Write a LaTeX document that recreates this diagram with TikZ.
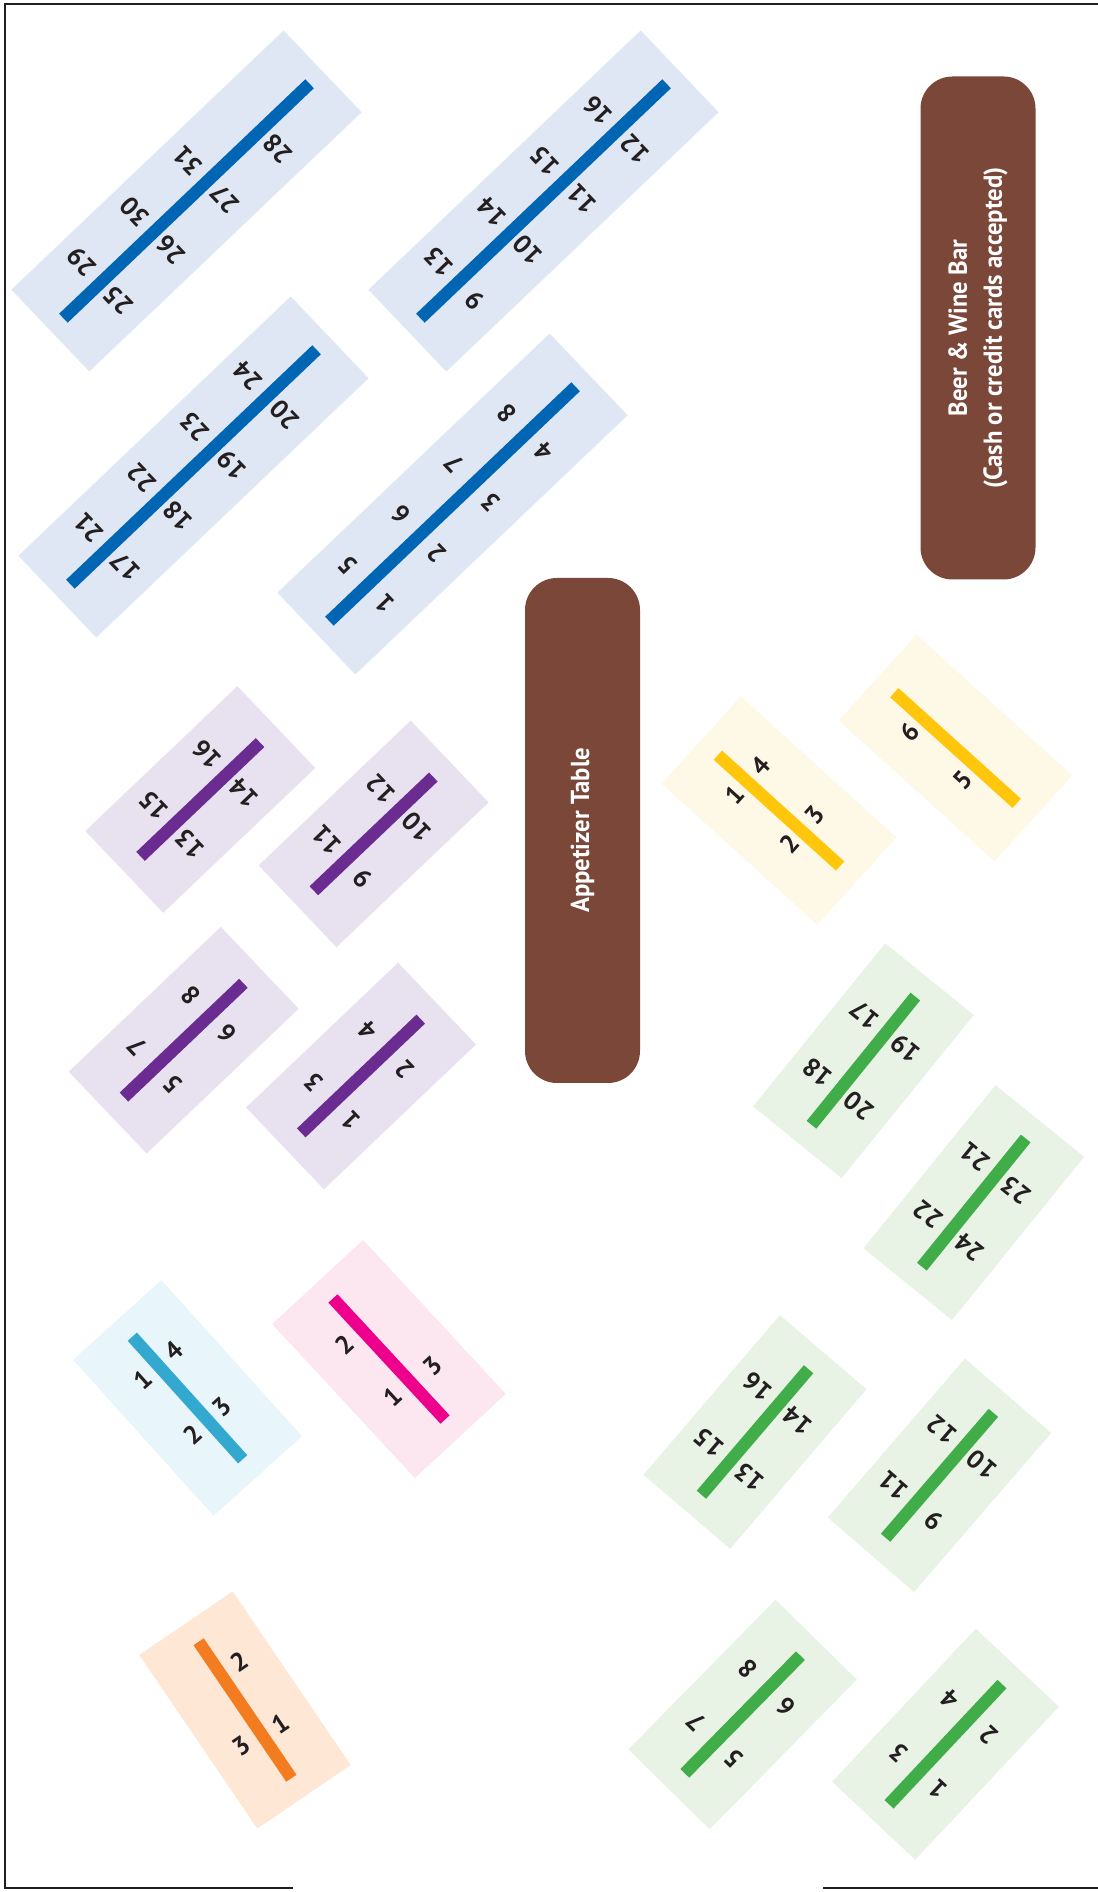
\documentclass[tikz,border=0pt]{standalone}
\usepackage{fontspec}
\setmainfont{PT Sans}
\newfontfamily\estreita[FakeStretch=0.95]{PT Sans}
\usepackage{tikz}
\usepackage{xcolor}

\definecolor{azul}{RGB}{0,102,179}
\definecolor{azulclaro}{RGB}{223,231,244}
\definecolor{roxo}{RGB}{107,44,145}
\definecolor{roxoclaro}{RGB}{232,225,239}
\definecolor{verde}{RGB}{64,173,73}
\definecolor{verdeclaro}{RGB}{232,243,229}
\definecolor{amarelo}{RGB}{255,198,11}
\definecolor{amareloclaro}{RGB}{254,248,230}
\definecolor{ciano}{RGB}{51,169,207}
\definecolor{cianoclaro}{RGB}{232,245,250}
\definecolor{rosa}{RGB}{236,0,140}
\definecolor{rosaclaro}{RGB}{252,231,241}
\definecolor{laranja}{RGB}{244,124,32}
\definecolor{laranjaclaro}{RGB}{254,231,212}
\definecolor{marrom}{RGB}{122,71,57}
\definecolor{tinta}{RGB}{35,31,32}

\begin{document}
\begin{tikzpicture}[x=0.5pt, y=0.5pt,
  barra/.style={line width=6.2pt},
  num/.style={font=\fontsize{13}{13}\selectfont\bfseries, text=tinta, transform shape, rotate=90, inner sep=0pt},
  balcao/.style={fill=marrom, rounded corners=16pt, rotate=90, text=white, align=center,
    font=\estreita\bfseries\fontsize{13}{17.5}\selectfont, minimum height=57.5pt},
  borda/.style={tinta, line width=1pt}]
\useasboundingbox (0,0) rectangle (1098,1892);

% Moldura
\coordinate (m1) at (1098,1887.5);
\coordinate (m2) at (5,1887.5);
\coordinate (m3) at (5,4);
\coordinate (m4) at (293,4);
\coordinate (m5) at (823,4);
\coordinate (m6) at (1098,4);
\draw[borda] (m1) -- (m2) -- (m3) -- (m4);
\draw[borda] (m5) -- (m6);

% Balcoes
\node[balcao, minimum width=252.5pt] (aperitivos) at (582.5,1061.5) {Appetizer Table};
\node[balcao, minimum width=251.5pt] (bar) at (978,1564) {Beer \& Wine Bar\\(Cash or credit cards accepted)};

% Mesas azuis
\foreach \id/\x/\y/\k in {b1/452.5/1388/1, b2/543.5/1691/9, b3/193.5/1425/17, b4/186.5/1691/25} {
  \begin{scope}[shift={(\x,\y)}, rotate=43.6]
    \fill[azulclaro] (-188,-56.5) rectangle (188,56.5);
    \coordinate (\id-a) at (-170,0);
    \coordinate (\id-b) at (170,0);
    \draw[barra, azul] (\id-a) -- (\id-b);
    \foreach \i/\du in {0/-118, 1/-45, 2/29, 3/102} {
      \pgfmathtruncatemacro{\m}{\k+\i}
      \pgfmathtruncatemacro{\p}{\k+\i+4}
      \node[num] (\id-\m) at (\du,-25) {\m};
      \ifnum\p<32 \node[num] (\id-\p) at (\du,28) {\p}; \fi
    }
  \end{scope}
}

% Mesas roxas
\foreach \id/\x/\y/\k in {r1/361/816/1, r2/183.7/851.8/5, r3/373.6/1058.1/9, r4/200.3/1092.5/13} {
  \begin{scope}[shift={(\x,\y)}, rotate=43.6]
    \fill[roxoclaro] (-105,-56.5) rectangle (105,56.5);
    \coordinate (\id-a) at (-82.5,0);
    \coordinate (\id-b) at (82.5,0);
    \draw[barra, roxo] (\id-a) -- (\id-b);
    \foreach \i/\du/\dv in {0/-38/-25, 1/36/-25, 2/-38/28, 3/36/28} {
      \pgfmathtruncatemacro{\m}{\k+\i}
      \node[num] (\id-\m) at (\du,\dv) {\m};
    }
  \end{scope}
}

% Mesas verdes
\foreach \id/\x/\y/\a/\k in {g1/945.5/147.8/46.8/1, g2/742.6/177.5/45.5/5, g3/755/460/49.5/13, g4/939.5/416.7/49.2/9} {
  \begin{scope}[shift={(\x,\y)}, rotate=\a]
    \fill[verdeclaro] (-105,-57) rectangle (105,57);
    \coordinate (\id-a) at (-82.5,0);
    \coordinate (\id-b) at (82.5,0);
    \draw[barra, verde] (\id-a) -- (\id-b);
    \foreach \i/\du/\dv in {0/-38/-25, 1/36/-25, 2/-38/28, 3/36/28} {
      \pgfmathtruncatemacro{\m}{\k+\i}
      \node[num] (\id-\m) at (\du,\dv) {\m};
    }
  \end{scope}
}
\foreach \id/\x/\y/\k in {g5/973.8/689.4/21, g6/863.4/831.3/17} {
  \begin{scope}[shift={(\x,\y)}, rotate=51]
    \fill[verdeclaro] (-105,-57) rectangle (105,57);
    \coordinate (\id-a) at (-82.5,0);
    \coordinate (\id-b) at (82.5,0);
    \draw[barra, verde] (\id-a) -- (\id-b);
    \foreach \i/\du/\dv in {0/36/28, 1/-38/28, 2/36/-25, 3/-38/-25} {
      \pgfmathtruncatemacro{\m}{\k+\i}
      \node[num] (\id-\m) at (\du,\dv) {\m};
    }
  \end{scope}
}

% Mesas amarelas
\begin{scope}[shift={(779,1081.4)}, rotate=-42.2]
  \fill[amareloclaro] (-105,-59) rectangle (105,59);
  \coordinate (y1-a) at (-82.5,0);
  \coordinate (y1-b) at (82.5,0);
  \draw[barra, amarelo] (y1-a) -- (y1-b);
  \foreach \n/\du/\dv in {1/-44/-18, 4/-44/21, 2/30/-18, 3/30/21}
    \node[num] (y1-\n) at (\du,\dv) {\n};
\end{scope}
\begin{scope}[shift={(955.5,1144)}, rotate=-42.1]
  \fill[amareloclaro] (-105,-58) rectangle (105,58);
  \coordinate (y2-a) at (-82.5,0);
  \coordinate (y2-b) at (82.5,0);
  \draw[barra, amarelo] (y2-a) -- (y2-b);
  \foreach \n/\du/\dv in {6/-45/-19, 5/27/-19}
    \node[num] (y2-\n) at (\du,\dv) {\n};
\end{scope}

% Mesa ciano
\begin{scope}[shift={(187.5,494)}, rotate=-48]
  \fill[cianoclaro] (-105,-59.5) rectangle (105,59.5);
  \coordinate (c-a) at (-82.5,0);
  \coordinate (c-b) at (82.5,0);
  \draw[barra, ciano] (c-a) -- (c-b);
  \foreach \n/\du/\dv in {1/-43/-21, 4/-44/21, 2/31/-21, 3/30/20}
    \node[num] (c-\n) at (\du,\dv) {\n};
\end{scope}

% Mesa rosa
\begin{scope}[shift={(389,533)}, rotate=-47.2]
  \fill[rosaclaro] (-105,-62) rectangle (105,62);
  \coordinate (p-a) at (-82.5,0);
  \coordinate (p-b) at (82.5,0);
  \draw[barra, rosa] (p-a) -- (p-b);
  \foreach \n/\du/\dv in {2/-41/-23, 1/30/-23, 3/35/27}
    \node[num] (p-\n) at (\du,\dv) {\n};
\end{scope}

% Mesa laranja
\begin{scope}[shift={(245,182)}, rotate=-55.8]
  \fill[laranjaclaro] (-105,-56.5) rectangle (105,56.5);
  \coordinate (l-a) at (-82.5,0);
  \coordinate (l-b) at (82.5,0);
  \draw[barra, laranja] (l-a) -- (l-b);
  \foreach \n/\du/\dv in {2/-43/23, 1/31/22, 3/28/-23}
    \node[num] (l-\n) at (\du,\dv) {\n};
\end{scope}
\end{tikzpicture}
\end{document}
